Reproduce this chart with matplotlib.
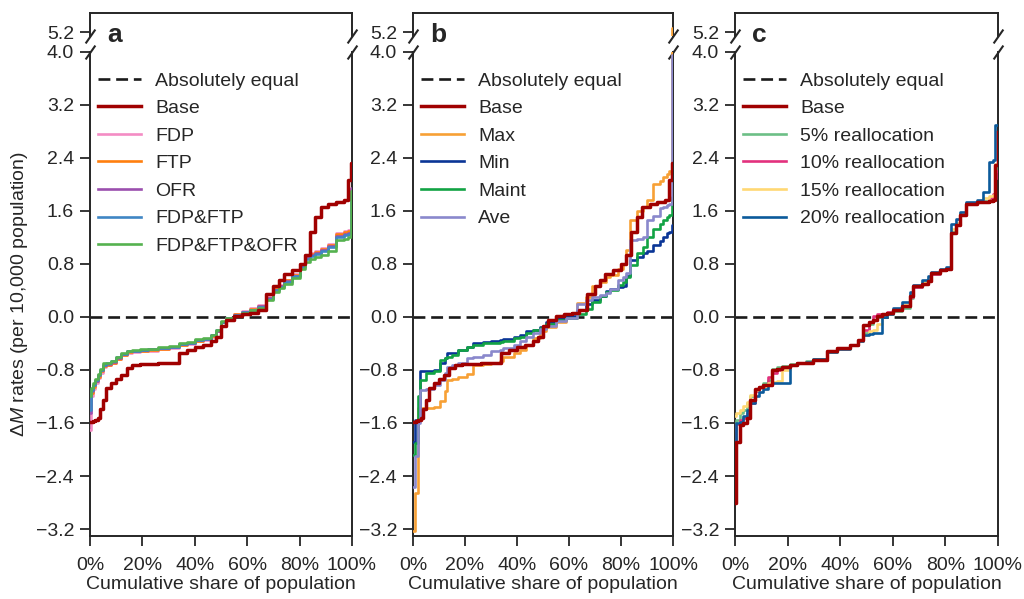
import matplotlib
matplotlib.use("Agg")
import matplotlib.pyplot as plt
from matplotlib.ticker import PercentFormatter, FixedLocator
import numpy as np

# ---- data ----
# panel a
xa = [0, 0.005, 0.01, 0.02, 0.03, 0.04, 0.05, 0.06, 0.08, 0.10, 0.12, 0.14, 0.16,
      0.19, 0.22, 0.26, 0.30, 0.34, 0.37, 0.40, 0.43, 0.46, 0.48, 0.50, 0.52, 0.55,
      0.58, 0.61, 0.64, 0.67, 0.70, 0.72, 0.74, 0.77, 0.80, 0.82, 0.84, 0.86, 0.88,
      0.91, 0.94, 0.97, 0.985, 0.995, 1.0]
base_ab = [-1.58, -1.58, -1.57, -1.55, -1.52, -1.39, -1.25, -1.07, -1.00, -0.93, -0.88,
           -0.77, -0.73, -0.71, -0.71, -0.70, -0.69, -0.55, -0.50, -0.46, -0.42, -0.37,
           -0.30, -0.13, -0.04, 0.02, 0.04, 0.06, 0.10, 0.34, 0.47, 0.56, 0.65, 0.70,
           0.80, 0.93, 1.28, 1.50, 1.66, 1.71, 1.74, 1.76, 2.07, 2.32, 2.32]
fdp = [-1.70, -1.20, -1.08, -1.00, -0.92, -0.84, -0.76, -0.73, -0.70, -0.64, -0.58,
       -0.54, -0.53, -0.52, -0.51, -0.49, -0.47, -0.43, -0.41, -0.37, -0.35, -0.30,
       -0.22, -0.08, -0.01, 0.04, 0.09, 0.13, 0.18, 0.30, 0.43, 0.48, 0.56, 0.64,
       0.80, 0.93, 0.97, 1.00, 1.04, 1.10, 1.27, 1.30, 1.31, 1.32, 1.32]
ftp = [-1.35, -1.15, -1.05, -0.97, -0.90, -0.82, -0.74, -0.72, -0.69, -0.63, -0.57,
       -0.53, -0.52, -0.51, -0.50, -0.48, -0.46, -0.42, -0.40, -0.36, -0.34, -0.29,
       -0.21, -0.07, -0.01, 0.04, 0.08, 0.12, 0.17, 0.29, 0.42, 0.47, 0.55, 0.63,
       0.78, 0.91, 0.95, 0.98, 1.02, 1.08, 1.25, 1.28, 1.30, 1.33, 1.33]
ofr = [-1.45, -1.12, -1.03, -0.96, -0.88, -0.80, -0.72, -0.71, -0.68, -0.62, -0.56,
       -0.52, -0.51, -0.50, -0.49, -0.47, -0.45, -0.41, -0.39, -0.35, -0.33, -0.28,
       -0.21, -0.07, -0.02, 0.03, 0.07, 0.11, 0.16, 0.28, 0.41, 0.46, 0.54, 0.62,
       0.77, 0.90, 0.94, 0.97, 1.01, 1.07, 1.22, 1.25, 1.27, 1.95, 1.95]
fdp_ftp = [-1.40, -1.10, -1.02, -0.95, -0.87, -0.80, -0.72, -0.70, -0.67, -0.61, -0.56,
           -0.52, -0.51, -0.50, -0.49, -0.47, -0.45, -0.41, -0.39, -0.35, -0.33, -0.28,
           -0.20, -0.07, -0.02, 0.03, 0.07, 0.11, 0.15, 0.27, 0.40, 0.45, 0.53, 0.61,
           0.76, 0.88, 0.92, 0.95, 0.99, 1.05, 1.20, 1.23, 1.25, 1.85, 1.85]
fdp_ftp_ofr = [-1.20, -1.07, -1.00, -0.93, -0.86, -0.78, -0.70, -0.69, -0.66, -0.60,
               -0.55, -0.51, -0.50, -0.49, -0.48, -0.46, -0.44, -0.40, -0.38, -0.34,
               -0.32, -0.27, -0.20, -0.06, -0.02, 0.02, 0.06, 0.10, 0.14, 0.26, 0.38,
               0.43, 0.50, 0.58, 0.72, 0.83, 0.87, 0.90, 0.94, 1.00, 1.16, 1.18, 1.20,
               1.90, 1.90]

# panel b
xb = [0, 0.008, 0.018, 0.027, 0.05, 0.08, 0.104, 0.123, 0.13, 0.15, 0.174, 0.206,
      0.232, 0.27, 0.30, 0.335, 0.347, 0.39, 0.41, 0.436, 0.462, 0.487, 0.513, 0.551,
      0.59, 0.63, 0.667, 0.69, 0.718, 0.744, 0.758, 0.79, 0.808, 0.82, 0.835, 0.86,
      0.885, 0.90, 0.924, 0.949, 0.963, 0.975, 0.985, 0.995, 1.0]
max_b = [-3.23, -2.66, -1.38, -1.38, -1.38, -1.36, -1.27, -1.12, -0.95, -0.94, -0.90,
         -0.86, -0.72, -0.71, -0.70, -0.66, -0.60, -0.55, -0.50, -0.42, -0.32, -0.22,
         -0.15, -0.07, -0.02, 0.21, 0.30, 0.46, 0.52, 0.60, 0.63, 0.73, 0.80, 1.01,
         1.46, 1.59, 1.66, 1.76, 2.01, 2.05, 2.11, 2.15, 2.20, 5.26, 5.26]
min_b = [-1.88, -1.56, -1.56, -0.82, -0.81, -0.80, -0.70, -0.62, -0.55, -0.54, -0.50,
         -0.46, -0.40, -0.38, -0.36, -0.35, -0.33, -0.30, -0.27, -0.22, -0.19, -0.15,
         -0.08, -0.02, 0.02, 0.10, 0.20, 0.26, 0.32, 0.39, 0.42, 0.45, 0.46, 0.61,
         0.86, 0.90, 0.96, 1.00, 1.08, 1.15, 1.20, 1.26, 1.28, 1.39, 1.39]
maint_b = [-2.08, -1.90, -1.20, -0.95, -0.84, -0.82, -0.65, -0.62, -0.60, -0.57, -0.50,
           -0.45, -0.43, -0.40, -0.39, -0.38, -0.36, -0.32, -0.30, -0.25, -0.20, -0.16,
           -0.10, -0.05, -0.01, 0.05, 0.12, 0.22, 0.32, 0.38, 0.40, 0.48, 0.52, 0.60,
           0.78, 0.96, 1.05, 1.21, 1.33, 1.40, 1.46, 1.50, 1.53, 1.81, 1.81]
ave_b = [-2.56, -2.10, -1.60, -1.10, -1.08, -1.02, -0.95, -0.85, -0.75, -0.73, -0.70,
         -0.62, -0.60, -0.58, -0.52, -0.50, -0.47, -0.42, -0.37, -0.30, -0.24, -0.18,
         -0.13, -0.06, -0.02, 0.19, 0.25, 0.30, 0.33, 0.36, 0.42, 0.55, 0.60, 0.66,
         1.16, 1.18, 1.21, 1.46, 1.52, 1.64, 1.66, 1.69, 1.71, 3.95, 3.95]

# panel c
xc = [0, 0.003, 0.019, 0.03, 0.044, 0.057, 0.076, 0.09, 0.108, 0.125, 0.14, 0.16, 0.18,
      0.21, 0.237, 0.27, 0.298, 0.35, 0.387, 0.437, 0.469, 0.488, 0.51, 0.526, 0.54,
      0.56, 0.577, 0.60, 0.634, 0.666, 0.678, 0.71, 0.735, 0.747, 0.78, 0.804, 0.823,
      0.842, 0.855, 0.88, 0.92, 0.943, 0.965, 0.98, 0.987, 1.0]
base_c = [-2.81, -1.88, -1.63, -1.60, -1.53, -1.25, -1.08, -1.05, -1.03, -1.02, -0.80,
          -0.78, -0.75, -0.72, -0.70, -0.69, -0.65, -0.52, -0.47, -0.42, -0.35, -0.12,
          -0.08, -0.05, 0.02, 0.04, 0.06, 0.10, 0.16, 0.31, 0.46, 0.50, 0.54, 0.66,
          0.70, 0.73, 1.26, 1.38, 1.54, 1.71, 1.73, 1.74, 1.75, 1.76, 2.29, 2.79]
re5 = [-1.70, -1.55, -1.45, -1.40, -1.30, -1.20, -1.10, -1.05, -1.00, -0.95, -0.78,
       -0.76, -0.74, -0.71, -0.69, -0.67, -0.64, -0.53, -0.47, -0.42, -0.35, -0.25,
       -0.10, -0.04, 0.00, 0.03, 0.05, 0.09, 0.14, 0.28, 0.45, 0.50, 0.54, 0.64,
       0.70, 0.73, 1.28, 1.40, 1.55, 1.72, 1.74, 1.75, 1.76, 1.78, 2.20, 2.60]
re10 = [-2.00, -1.62, -1.55, -1.52, -1.45, -1.30, -1.12, -1.06, -1.03, -0.90, -0.84,
        -0.80, -0.76, -0.72, -0.70, -0.68, -0.65, -0.52, -0.47, -0.42, -0.36, -0.20,
        -0.08, 0.02, 0.04, 0.05, 0.07, 0.10, 0.16, 0.30, 0.45, 0.50, 0.54, 0.65,
        0.70, 0.73, 1.27, 1.38, 1.54, 1.71, 1.73, 1.74, 1.80, 1.85, 2.20, 2.10]
re15 = [-1.50, -1.45, -1.40, -1.35, -1.28, -1.18, -1.10, -1.06, -1.04, -1.00, -0.98,
        -0.96, -0.80, -0.72, -0.70, -0.68, -0.65, -0.53, -0.48, -0.42, -0.36, -0.27,
        -0.22, -0.20, -0.10, 0.02, 0.05, 0.10, 0.18, 0.33, 0.46, 0.52, 0.58, 0.66,
        0.71, 0.74, 1.33, 1.42, 1.56, 1.72, 1.74, 1.80, 1.82, 1.84, 2.30, 2.50]
re20 = [-2.30, -1.60, -1.58, -1.50, -1.40, -1.30, -1.20, -1.13, -1.08, -1.03, -1.00,
        -1.00, -0.99, -0.72, -0.70, -0.68, -0.64, -0.53, -0.48, -0.42, -0.37, -0.28,
        -0.26, -0.25, -0.24, 0.00, 0.05, 0.14, 0.22, 0.38, 0.48, 0.55, 0.62, 0.68,
        0.72, 0.75, 1.40, 1.48, 1.58, 1.73, 1.76, 1.89, 2.34, 2.36, 2.89, 2.89]

yticks = [-3.2, -2.4, -1.6, -0.8, 0.0, 0.8, 1.6, 2.4, 3.2, 4.0]
xticks = [0, 0.2, 0.4, 0.6, 0.8, 1.0]

base_col = "#a00000"
panels = [
    ("a", [("Base", xa, base_ab, base_col),
           ("FDP", xa, fdp, "#f48cc4"),
           ("FTP", xa, ftp, "#ff7f0e"),
           ("OFR", xa, ofr, "#9b4fae"),
           ("FDP&FTP", xa, fdp_ftp, "#3f86c4"),
           ("FDP&FTP&OFR", xa, fdp_ftp_ofr, "#55b24f")]),
    ("b", [("Base", xa, base_ab, base_col),
           ("Max", xb, max_b, "#f7a035"),
           ("Min", xb, min_b, "#0a3596"),
           ("Maint", xb, maint_b, "#12a344"),
           ("Ave", xb, ave_b, "#8a88cc")]),
    ("c", [("Base", xc, base_c, base_col),
           ("5% reallocation", xc, re5, "#6cbf86"),
           ("10% reallocation", xc, re10, "#e2317d"),
           ("15% reallocation", xc, re15, "#ffd873"),
           ("20% reallocation", xc, re20, "#0b5a9b")]),
]

plt.rcParams["font.family"] = ["Liberation Sans", "DejaVu Sans"]
plt.rcParams["mathtext.fontset"] = "custom"
plt.rcParams["mathtext.it"] = "Liberation Sans:italic"
plt.rcParams["mathtext.rm"] = "Liberation Sans"
fs = 14
plt.rcParams["font.size"] = fs
ink = "#262626"
plt.rcParams["text.color"] = ink
plt.rcParams["axes.labelcolor"] = ink
plt.rcParams["xtick.color"] = ink
plt.rcParams["ytick.color"] = ink

fig = plt.figure(figsize=(10.24, 5.99), dpi=100)
W, H = 1024.0, 599.0
lefts = [90, 413, 735]
rights = [352, 673, 998]
low_top, low_bot = 51.7, 535.7
up_top, up_bot = 12.7, 36.0

brk = dict(marker=[(-0.7, -1), (0.7, 1)], markersize=10, linestyle="none",
           color=ink, mec=ink, mew=1.5, clip_on=False)

for i, (letter, series) in enumerate(panels):
    l = lefts[i] / W
    w = (rights[i] - lefts[i]) / W
    ax = fig.add_axes([l, 1 - low_bot / H, w, (low_bot - low_top) / H])
    axt = fig.add_axes([l, 1 - up_bot / H, w, (up_bot - up_top) / H])

    for a in (ax, axt):
        a.axhline(0, color="#1a1a1a", lw=1.9, ls=(0, (4.5, 2.2)), zorder=1,
                  label="Absolutely equal")
        for j, (name, xs, ys, col) in enumerate(series):
            a.plot(xs, ys, drawstyle="steps-post", color=col,
                   lw=2.5 if name == "Base" else 1.9,
                   zorder=5 if name == "Base" else 3 + j * 0.01, label=name)
        a.set_xlim(0, 1)
        for s in a.spines.values():
            s.set_linewidth(1.4)
            s.set_color(ink)
        a.tick_params(direction="out", length=7.5, width=1.3, labelsize=fs)
        a.tick_params(axis="y", pad=4)
        a.tick_params(axis="x", pad=7.5)

    ax.set_ylim(-3.3, 4.0)
    axt.set_ylim(5.14, 5.49)
    ax.yaxis.set_major_locator(FixedLocator(yticks))
    ax.yaxis.set_major_formatter(plt.FuncFormatter(lambda v, p: f"{v:.1f}".replace("-", "\u2212")))
    axt.yaxis.set_major_locator(FixedLocator([5.2]))
    axt.yaxis.set_major_formatter(plt.FuncFormatter(lambda v, p: f"{v:.1f}"))
    ax.xaxis.set_major_locator(FixedLocator(xticks))
    ax.xaxis.set_major_formatter(PercentFormatter(xmax=1, decimals=0))
    axt.set_xticks([])
    ax.spines["top"].set_visible(False)
    axt.spines["bottom"].set_visible(False)
    ax.set_xlabel("Cumulative share of population", fontsize=fs, labelpad=1.5)

    # broken axis marks
    axt.plot([0, 1], [0, 0], transform=axt.transAxes, **brk)
    ax.plot([0, 1], [1, 1], transform=ax.transAxes, **brk)

    axt.text(0.065, -0.26, letter, transform=axt.transAxes, fontsize=19,
             fontweight="bold", va="baseline", ha="left")

    ax.legend(loc="upper left", bbox_to_anchor=(0, 0.974), frameon=False,
              fontsize=fs, handlelength=2.2, handletextpad=0.75, labelspacing=0.51,
              borderaxespad=0.0, borderpad=0.4)

    if i == 0:
        ax.set_ylabel("\u0394$M$ rates (per 10,000 population)", fontsize=fs,
                      labelpad=4)

fig.savefig("out.png", dpi=100)
